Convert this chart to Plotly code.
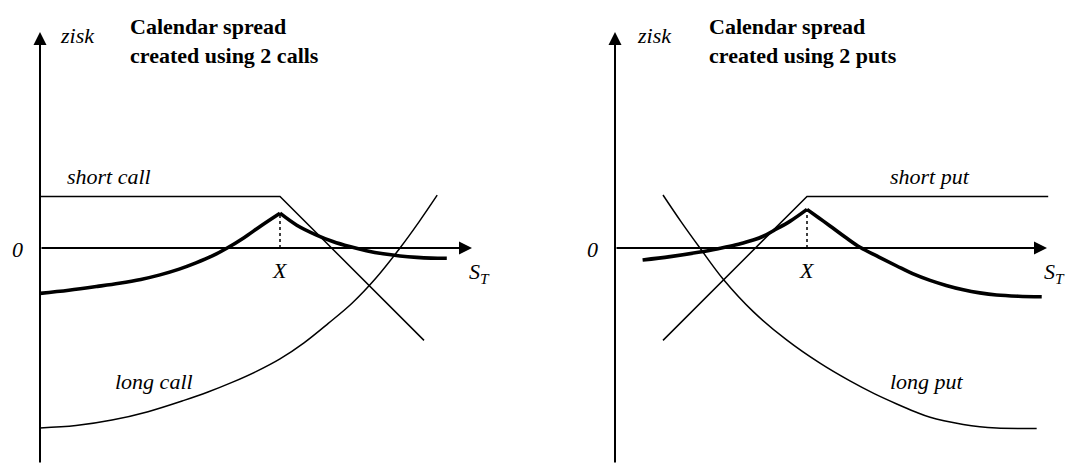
import plotly.graph_objects as go

# ---------------- data (schematic payoff values) ----------------
# Left panel: calendar spread with 2 calls (strike X = 10)
call_strike = 10
call_short_x = [0, 10, 16]
call_short_y = [2.15, 2.15, -3.85]
call_long_x = [0, 1.5, 3, 4.5, 6, 7, 8, 9, 10, 11, 12, 13, 14, 15, 15.8, 16.55]
call_long_y = [-7.5, -7.4, -7.17, -6.82, -6.35, -6.0, -5.6, -5.15, -4.62, -3.95, -3.15, -2.3,
               -1.25, 0.0, 1.1, 2.2]
call_spread_lo_x = [0, 1.2, 2.4, 3.3, 4.2, 5.0, 5.8, 6.5, 7.2, 7.8, 8.5, 9.2, 10]
call_spread_lo_y = [-1.89, -1.76, -1.6, -1.47, -1.31, -1.12, -0.88, -0.62, -0.32, 0.0, 0.43,
                    0.92, 1.45]
call_spread_hi_x = [10, 10.7, 11.5, 12.2, 12.9, 13.6, 14.3, 15.0, 15.7, 16.3, 16.95]
call_spread_hi_y = [1.45, 0.95, 0.55, 0.27, 0.06, -0.11, -0.24, -0.33, -0.39, -0.42, -0.43]

# Right panel: calendar spread with 2 puts (strike X = 8)
put_strike = 8
put_short_x = [2, 8, 18.05]
put_short_y = [-3.85, 2.15, 2.15]
put_long_x = [2.0, 2.75, 3.54, 4.51, 5.76, 7.15, 8.54, 9.79, 10.8, 11.74, 12.5, 13.13, 14.51,
              15.2, 15.9, 17.57]
put_long_y = [2.21, 1.1, 0.0, -1.3, -2.65, -3.83, -4.8, -5.54, -6.07, -6.5, -6.82, -7.05,
              -7.35, -7.45, -7.5, -7.52]
put_spread_lo_x = [1.15, 2.3, 3.54, 4.3, 4.79, 5.3, 5.76, 6.2, 6.6, 7.3, 8.0]
put_spread_lo_y = [-0.5, -0.36, -0.17, -0.03, 0.07, 0.2, 0.33, 0.5, 0.72, 1.12, 1.61]
put_spread_hi_x = [8.0, 8.5, 8.96, 9.6, 10.21, 11.0, 11.74, 12.4, 13.13, 13.8, 14.51, 15.2,
                   15.9, 16.8, 17.78]
put_spread_hi_y = [1.61, 1.25, 0.92, 0.45, 0.03, -0.38, -0.75, -1.07, -1.35, -1.56, -1.74,
                   -1.87, -1.96, -2.01, -2.03]

titles = ["Calendar spread<br>created using 2 calls", "Calendar spread<br>created using 2 puts"]
leg_labels = [["short call", "long call"], ["short put", "long put"]]
y_label = "zisk"
x_label = "S<sub>T</sub>"
strike_label = "X"
zero_label = "0"

FONT = "Liberation Serif"
FS = 22

fig = go.Figure()

panels = [
    ("x", "y", call_strike, call_short_x, call_short_y, call_long_x, call_long_y,
     call_spread_lo_x, call_spread_lo_y, call_spread_hi_x, call_spread_hi_y),
    ("x2", "y2", put_strike, put_short_x, put_short_y, put_long_x, put_long_y,
     put_spread_lo_x, put_spread_lo_y, put_spread_hi_x, put_spread_hi_y),
]

for (xr, yr, K, sx, sy, lx, ly, plx, ply, phx, phy) in panels:
    fig.add_trace(go.Scatter(x=sx, y=sy, mode="lines", line=dict(color="black", width=1.5),
                             xaxis=xr, yaxis=yr))
    fig.add_trace(go.Scatter(x=lx, y=ly, mode="lines",
                             line=dict(color="black", width=1.5, shape="spline"),
                             xaxis=xr, yaxis=yr))
    fig.add_trace(go.Scatter(x=plx, y=ply, mode="lines",
                             line=dict(color="black", width=3.6, shape="spline"),
                             xaxis=xr, yaxis=yr))
    fig.add_trace(go.Scatter(x=phx, y=phy, mode="lines",
                             line=dict(color="black", width=3.6, shape="spline"),
                             xaxis=xr, yaxis=yr))
    peak = ply[-1]
    fig.add_trace(go.Scatter(x=[K, K], y=[0, peak], mode="lines",
                             line=dict(color="black", width=1.5, dash="dot"),
                             xaxis=xr, yaxis=yr))

annotations = []
Y_TOP, Y_BOT, X_END = 9.0, -9.0, 18.0


def txt(x, y, xr, yr, text, xanchor="left", align="left"):
    return dict(x=x, y=y, xref=xr, yref=yr, text=text, showarrow=False, align=align,
                xanchor=xanchor, yanchor="middle",
                font=dict(family=FONT, size=FS, color="black"))


for i, (xr, yr, K) in enumerate([("x", "y", call_strike), ("x2", "y2", put_strike)]):
    # axes with arrows
    annotations.append(dict(x=0, y=Y_TOP, ax=0, ay=Y_BOT, xref=xr, yref=yr, axref=xr, ayref=yr,
                            text="", showarrow=True, arrowhead=2, arrowsize=1.3, arrowwidth=2,
                            arrowcolor="black", standoff=0, startstandoff=0))
    annotations.append(dict(x=X_END, y=0, ax=0, ay=0, xref=xr, yref=yr, axref=xr, ayref=yr,
                            text="", showarrow=True, arrowhead=2, arrowsize=1.3, arrowwidth=2,
                            arrowcolor="black", standoff=0, startstandoff=0))
    annotations.append(txt(-0.94, -0.08, xr, yr, "<i>%s</i>" % zero_label, "center"))
    annotations.append(txt(K, -0.92, xr, yr, "<i>%s</i>" % strike_label, "center"))
    annotations.append(txt(17.8, -1.05, xr, yr, "<i>%s</i>" % x_label))
    annotations.append(txt(0.75 if i == 0 else 0.83, 8.85, xr, yr, "<i>%s</i>" % y_label))
    annotations.append(txt(3.67 if i == 0 else 3.83, 8.62, xr, yr, "<b>%s</b>" % titles[i]))
    lx0 = 1.04 if i == 0 else 11.375
    lx1 = 3.04 if i == 0 else 11.375
    annotations.append(txt(lx0, 3.0, xr, yr, "<i>%s</i>" % leg_labels[i][0]))
    annotations.append(txt(lx1, -5.56, xr, yr, "<i>%s</i>" % leg_labels[i][1]))

ax_common = dict(visible=False, showgrid=False, zeroline=False, fixedrange=True)
fig.update_layout(
    width=1072, height=464,
    margin=dict(l=0, r=0, t=0, b=0),
    paper_bgcolor="white", plot_bgcolor="white",
    showlegend=False,
    font=dict(family=FONT, size=FS, color="black"),
    xaxis=dict(ax_common, domain=[0, 0.5], range=[-40 / 24, 496 / 24]),
    yaxis=dict(ax_common, domain=[0, 1], range=[-9, 248 / 24]),
    xaxis2=dict(ax_common, domain=[0.5, 1], range=[-79 / 24, 457 / 24]),
    yaxis2=dict(ax_common, domain=[0, 1], range=[-9, 248 / 24]),
    annotations=annotations,
)

fig.write_html("out.html", config={"displayModeBar": False},
               post_script="document.body.style.margin='0';document.body.style.overflow='hidden';")
